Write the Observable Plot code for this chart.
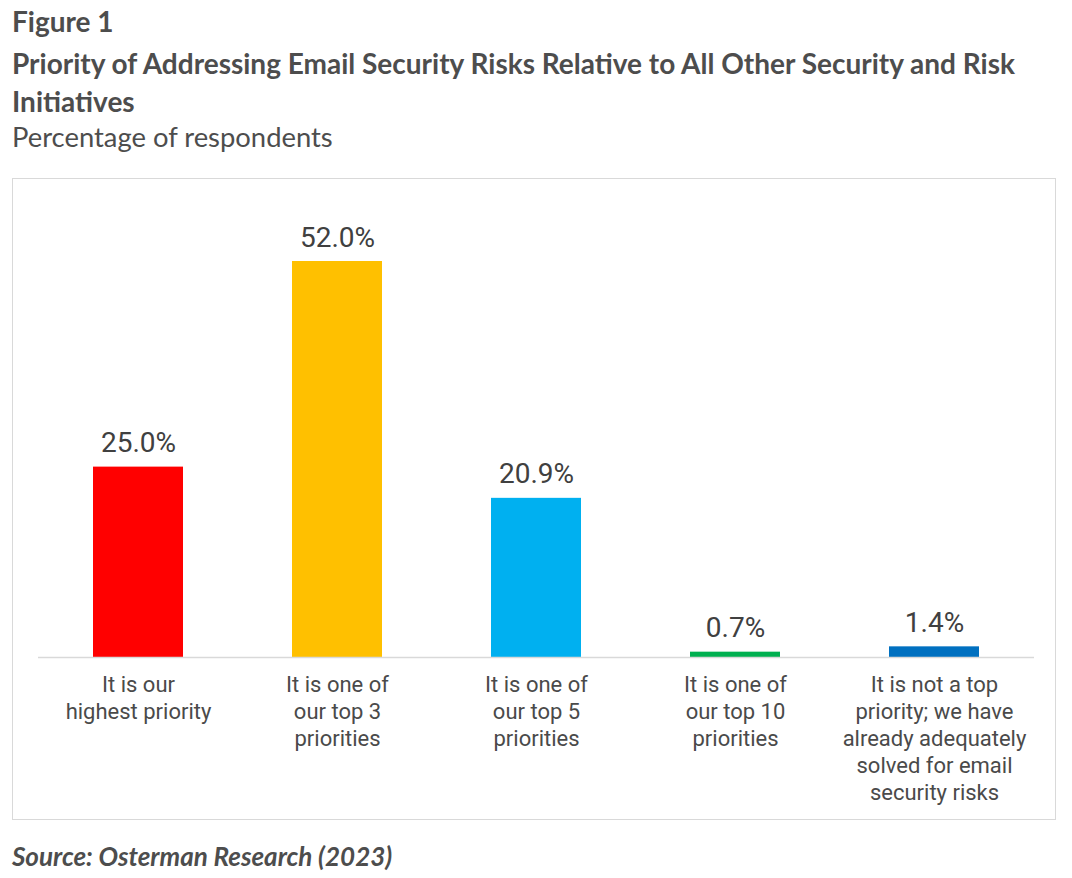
<!DOCTYPE html>
<html>
<head>
<meta charset="utf-8">
<script src="https://cdn.jsdelivr.net/npm/d3@7"></script>
<script src="https://cdn.jsdelivr.net/npm/@observablehq/plot@0.6"></script>
<style>
  html, body { margin: 0; padding: 0; background: #fff; }
  body { width: 1072px; height: 878px; position: relative; overflow: hidden; }
  .hdr { position: absolute; left: 12px; color: #4d4d4d; font-family: Lato, "Open Sans", sans-serif; white-space: nowrap; }
  #fig { top: 2px; font-size: 28px; font-weight: 700; line-height: 38px; }
  #title { top: 44px; font-size: 28px; font-weight: 700; line-height: 38px; }
  #sub { top: 120px; font-size: 27.4px; font-weight: 400; line-height: 34px; }
  #box { position: absolute; left: 12px; top: 178px; width: 1042px; height: 640px; border: 1px solid #d9d9d9; }
  #box svg { display: block; }
  #src { position: absolute; left: 12px; top: 840px; font-family: Lato, "Open Sans", sans-serif; font-size: 26px; font-weight: 700; font-style: italic; color: #4d4d4d; white-space: nowrap; }
</style>
</head>
<body>
<div class="hdr" id="fig">Figure 1</div>
<div class="hdr" id="title">Priority of Addressing Email Security Risks Relative to All Other Security and Risk<br>Initiatives</div>
<div class="hdr" id="sub">Percentage of respondents</div>
<div id="box"></div>
<div id="src">Source: Osterman Research (2023)</div>
<script>
// Survey answers, in display order
const categories = ["highest", "top3", "top5", "top10", "notTop"];
const tickLabels = [
  "It is our\nhighest priority",
  "It is one of\nour top 3\npriorities",
  "It is one of\nour top 5\npriorities",
  "It is one of\nour top 10\npriorities",
  "It is not a top\npriority; we have\nalready adequately\nsolved for email\nsecurity risks"
];
const shares = [25.0, 52.0, 20.9, 0.7, 1.4];
const barColors = ["#ff0000", "#ffc000", "#00b0f0", "#00b050", "#0070c0"];

const rows = categories.map((c, i) => ({
  key: c, label: tickLabels[i], value: shares[i], color: barColors[i]
}));

const chart = Plot.plot({
  width: 1042,
  height: 640,
  marginLeft: 25,
  marginRight: 21,
  marginTop: 82,
  marginBottom: 162,
  x: { domain: categories, paddingInner: 0.548, paddingOuter: 0.274, axis: null },
  y: { domain: [0, 52], axis: null },
  style: { fontFamily: "Roboto, 'Liberation Sans', sans-serif", background: "transparent" },
  marks: [
    Plot.barY(rows, { x: "key", y: "value", fill: "color" }),
    Plot.ruleY([0], { stroke: "#d9d9d9", strokeWidth: 1.5 }),
    // value above each bar
    Plot.text(rows, {
      x: "key", y: "value", text: d => d.value.toFixed(1) + "%",
      lineAnchor: "bottom", dy: -15, fontSize: 28, fill: "#404040"
    }),
    // category names under the baseline
    Plot.text(rows, {
      x: "key", y: 0, text: "label",
      lineAnchor: "top", dy: 15, fontSize: 22, lineHeight: 1.23, fill: "#4a4a4a"
    })
  ]
});
document.getElementById("box").appendChild(chart);
</script>
</body>
</html>
